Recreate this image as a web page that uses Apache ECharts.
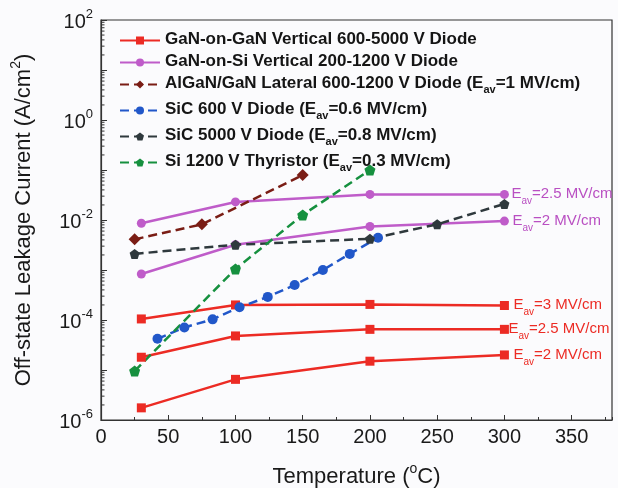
<!DOCTYPE html>
<html>
<head>
<meta charset="utf-8">
<script src="https://cdn.jsdelivr.net/npm/echarts@6/dist/echarts.min.js"></script>
<style>
  html, body { margin: 0; padding: 0; background: #fbfbfd; }
  #chart { width: 618px; height: 488px; }
</style>
</head>
<body>
<div id="chart"></div>
<script>
// Off-state leakage current vs. temperature for several power devices

// GaN-on-GaN vertical diodes (three field strengths)
const tempGaN = [30, 100, 200, 300];
const ganOnGan3 = [1.05e-4, 2.0e-4, 2.05e-4, 1.95e-4];
const ganOnGan25 = [1.8e-5, 4.8e-5, 6.5e-5, 6.5e-5];
const ganOnGan2 = [1.75e-6, 6.5e-6, 1.5e-5, 2.0e-5];

// GaN-on-Si vertical diodes (two field strengths)
const ganOnSi25 = [8.6e-3, 2.3e-2, 3.25e-2, 3.25e-2];
const ganOnSi2 = [8.3e-4, 3.2e-3, 7.4e-3, 9.5e-3];

// AlGaN/GaN lateral diode
const tempAlGaN = [25, 75, 150];
const alganLateral = [4.1e-3, 8.2e-3, 7.9e-2];

// SiC 600 V diode
const tempSiC600 = [42, 62, 83, 103, 124, 144, 165, 185, 206];
const sic600 = [4.2e-5, 7.1e-5, 1.03e-4, 1.8e-4, 2.9e-4, 5.0e-4, 1.0e-3, 2.1e-3, 4.4e-3];

// SiC 5000 V diode
const tempSiC5000 = [25, 100, 200, 250, 300];
const sic5000 = [2.1e-3, 3.2e-3, 4.2e-3, 8.2e-3, 2.1e-2];

// Si 1200 V thyristor
const tempSiThy = [25, 100, 150, 200];
const siThyristor = [9.5e-6, 1.05e-3, 1.26e-2, 0.1];

// Legend names
const names = [
  'GaN-on-GaN Vertical 600-5000 V Diode',
  'GaN-on-Si Vertical 200-1200 V Diode',
  'AlGaN/GaN Lateral 600-1200 V Diode (Eav=1 MV/cm)',
  'SiC 600 V Diode (Eav=0.6 MV/cm)',
  'SiC 5000 V Diode (Eav=0.8 MV/cm)',
  'Si 1200 V Thyristor (Eav=0.3 MV/cm)'
];

// Field-strength tags at the end of the GaN curves
const tagGaN3 = '3 MV/cm';
const tagGaN25 = '2.5 MV/cm';
const tagGaN2 = '2 MV/cm';
const tagSi25 = '2.5 MV/cm';
const tagSi2 = '2 MV/cm';

// Log-axis minor tick positions (2..9 within each decade)
const minorTickValues = [];
for (let e = -6; e < 2; e++) {
  for (let k = 2; k <= 9; k++) minorTickValues.push(k * Math.pow(10, e));
}

const FONT = '"Liberation Sans", Arial, sans-serif';
const RED = '#ec2b24';
const PURPLE = '#bf5cc9';
const PURPLE_TXT = '#b94fc2';
const DARKRED = '#7a1d15';
const BLUE = '#2157c9';
const GRAY = '#2f393d';
const GREEN = '#16903f';

function pairs(xs, ys) {
  return xs.map((x, i) => [x, ys[i]]);
}

function endTag(text, color, dist) {
  return {
    show: true,
    distance: dist,
    formatter: '{e|E}{s|av}{e|=' + text + '}',
    rich: {
      e: { fontFamily: FONT, fontSize: 15, color: color, lineHeight: 16, verticalAlign: 'top' },
      s: { fontFamily: FONT, fontSize: 10, color: color, lineHeight: 10, padding: [10, 0, 0, 0], verticalAlign: 'top' }
    }
  };
}

function lineSeries(name, xs, ys, color, symbol, size, dashed, tag) {
  const s = {
    name: name,
    type: 'line',
    data: pairs(xs, ys),
    symbol: symbol,
    symbolSize: size,
    showSymbol: true,
    color: color,
    itemStyle: { color: color },
    lineStyle: { color: color, width: 2.5, type: dashed ? [9, 5] : 'solid' },
    z: 3,
    animation: false
  };
  if (tag) s.endLabel = tag;
  return s;
}

const DIAMOND = 'diamond';
const PENTAGON = 'path://M0,-10 L9.5,-3.1 L5.9,8.1 L-5.9,8.1 L-9.5,-3.1 Z';

const series = [
  lineSeries(names[0], tempGaN, ganOnGan3, RED, 'rect', 9, false, endTag(tagGaN3, RED, 9)),
  lineSeries(names[0], tempGaN, ganOnGan25, RED, 'rect', 9, false, endTag(tagGaN25, RED, 4)),
  lineSeries(names[0], tempGaN, ganOnGan2, RED, 'rect', 9, false, endTag(tagGaN2, RED, 9)),
  lineSeries(names[1], tempGaN, ganOnSi25, PURPLE, 'circle', 9, false, endTag(tagSi25, PURPLE_TXT, 7)),
  lineSeries(names[1], tempGaN, ganOnSi2, PURPLE, 'circle', 9, false, endTag(tagSi2, PURPLE_TXT, 8)),
  lineSeries(names[2], tempAlGaN, alganLateral, DARKRED, DIAMOND, 12, true, null),
  lineSeries(names[3], tempSiC600, sic600, BLUE, 'circle', 10, true, null),
  lineSeries(names[4], tempSiC5000, sic5000, GRAY, PENTAGON, 10, true, null),
  lineSeries(names[5], tempSiThy, siThyristor, GREEN, PENTAGON, 11, true, null),
  {
    // short inward minor ticks on the log y axis
    type: 'custom',
    silent: true,
    animation: false,
    z: 2,
    data: minorTickValues.map(v => [0, v]),
    renderItem: function (params, api) {
      const p = api.coord([api.value(0), api.value(1)]);
      return {
        type: 'line',
        shape: { x1: p[0], y1: p[1], x2: p[0] + 3.5, y2: p[1] },
        style: { stroke: '#333', lineWidth: 1 }
      };
    }
  }
];

function legendText(name) {
  const i = name.indexOf('(Eav');
  if (i < 0) return '{b|' + name + '}';
  return '{b|' + name.slice(0, i) + '(E}{sub|av}{b|' + name.slice(i + 4) + '}';
}

const chart = echarts.init(document.getElementById('chart'), null, { renderer: 'canvas' });

chart.setOption({
  backgroundColor: '#fbfbfd',
  animation: false,
  textStyle: { fontFamily: FONT },
  grid: {
    left: 101, right: 6, top: 20, bottom: 68,
    outerBoundsMode: 'none',
    containLabel: false,
    show: true, borderColor: '#333', borderWidth: 1.2, backgroundColor: 'transparent'
  },
  legend: {
    data: names,
    orient: 'vertical',
    left: 114,
    top: 26,
    itemWidth: 40,
    itemHeight: 10,
    itemGap: 5,
    formatter: legendText,
    textStyle: {
      rich: {
        b: { fontFamily: FONT, fontSize: 17, fontWeight: 'bold', color: '#151515', lineHeight: 19, verticalAlign: 'top' },
        sub: { fontFamily: FONT, fontSize: 11, fontWeight: 'bold', color: '#151515', lineHeight: 14, padding: [9, 0, 1, 0], verticalAlign: 'top' }
      }
    }
  },
  xAxis: [
    {
      type: 'value',
      min: 0, max: 380, interval: 50,
      name: '{t|Temperature (}{s|o}{t|C)}',
      nameLocation: 'middle',
      nameGap: 42,
      nameTextStyle: {
        rich: {
          t: { fontFamily: FONT, fontSize: 22, color: '#1a1a1a', lineHeight: 26, verticalAlign: 'bottom' },
          s: { fontFamily: FONT, fontSize: 14, color: '#1a1a1a', lineHeight: 14, verticalAlign: 'top' }
        }
      },
      axisLine: { show: true, lineStyle: { color: '#333', width: 1.2 } },
      axisTick: { show: true, inside: true, length: 5, lineStyle: { color: '#333' } },
      axisLabel: { fontFamily: FONT, fontSize: 20, color: '#1a1a1a', margin: 7, showMaxLabel: false },
      splitLine: { show: false }
    },
    {
      // minor ticks every 25 degrees
      type: 'value',
      position: 'bottom',
      min: 0, max: 380, interval: 25,
      axisLine: { show: false },
      axisTick: { show: true, inside: true, length: 3, lineStyle: { color: '#333' } },
      axisLabel: { show: false },
      splitLine: { show: false }
    }
  ],
  yAxis: {
    type: 'log',
    logBase: 10,
    min: 1e-6, max: 100, interval: 1,
    name: '{t|Off-state Leakage Current (A/cm}{s|2}{t|)}',
    nameLocation: 'middle',
    nameRotate: 90,
    nameGap: 66,
    nameTextStyle: {
      rich: {
        t: { fontFamily: FONT, fontSize: 22, color: '#1a1a1a', lineHeight: 26, verticalAlign: 'bottom' },
        s: { fontFamily: FONT, fontSize: 14, color: '#1a1a1a', lineHeight: 14, verticalAlign: 'top' }
      }
    },
    axisLine: { show: true, lineStyle: { color: '#333', width: 1.2 } },
    axisTick: { show: true, inside: true, length: 6, lineStyle: { color: '#333' } },
    axisLabel: {
      margin: 8,
      formatter: function (v) {
        const e = Math.round(Math.log10(v));
        // labels on every second decade
        if (e % 2 !== 0) return '';
        return '{b|10}{s|' + e + '}';
      },
      rich: {
        b: { fontFamily: FONT, fontSize: 20, color: '#1a1a1a', lineHeight: 24, verticalAlign: 'bottom' },
        s: { fontFamily: FONT, fontSize: 13, color: '#1a1a1a', lineHeight: 13, verticalAlign: 'top' }
      }
    },
    splitLine: { show: false }
  },
  series: series
});
</script>
</body>
</html>
